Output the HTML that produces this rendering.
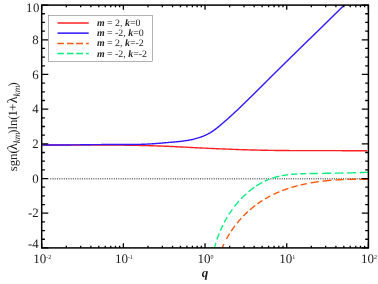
<!DOCTYPE html><html><head><meta charset="utf-8"><title>plot</title><style>html,body{margin:0;padding:0;background:#fff}svg{display:block;will-change:transform}text{font-family:"Liberation Serif",serif;fill:#1c1c1c;text-rendering:geometricPrecision}</style></head><body>
<svg width="378" height="284" viewBox="0 0 378 284">
<rect width="378" height="284" fill="#fff"/>
<defs><clipPath id="c"><rect x="41.70" y="5.10" width="326.70" height="242.80"/></clipPath></defs>
<line x1="50.20" y1="178.73" x2="368.40" y2="178.73" stroke="#000" stroke-opacity="0.6" stroke-width="1.4" stroke-dasharray="1 1.27"/>
<g clip-path="url(#c)" fill="none" stroke-width="1.40">
<path d="M41.70,144.89 L43.34,144.91 L44.97,144.92 L46.61,144.93 L48.24,144.94 L49.88,144.94 L51.51,144.95 L53.15,144.96 L54.79,144.96 L56.42,144.97 L58.06,144.97 L59.69,144.98 L61.33,144.98 L62.97,144.98 L64.60,144.98 L66.24,144.99 L67.87,144.99 L69.51,144.99 L71.15,144.99 L72.78,144.99 L74.42,144.99 L76.06,144.99 L77.69,144.99 L79.33,144.99 L80.96,144.99 L82.60,144.99 L84.24,144.99 L85.87,144.99 L87.51,144.99 L89.15,144.99 L90.78,144.99 L92.42,144.99 L94.05,145.00 L95.69,145.00 L97.33,145.00 L98.96,145.01 L100.60,145.01 L102.24,145.02 L103.87,145.02 L105.51,145.03 L107.14,145.04 L108.78,145.04 L110.42,145.05 L112.05,145.06 L113.69,145.08 L115.33,145.09 L116.96,145.10 L118.60,145.12 L120.23,145.13 L121.87,145.15 L123.51,145.17 L125.14,145.19 L126.78,145.21 L128.41,145.24 L130.05,145.26 L131.68,145.29 L133.32,145.31 L134.96,145.34 L136.59,145.38 L138.23,145.41 L139.86,145.44 L141.50,145.48 L143.13,145.52 L144.77,145.56 L146.41,145.60 L148.04,145.64 L149.68,145.69 L151.31,145.74 L152.95,145.79 L154.58,145.84 L156.22,145.89 L157.85,145.95 L159.49,146.00 L161.12,146.06 L162.76,146.12 L164.39,146.19 L166.03,146.25 L167.66,146.32 L169.29,146.39 L170.93,146.46 L172.56,146.53 L174.20,146.61 L175.83,146.69 L177.47,146.76 L179.10,146.84 L180.73,146.93 L182.37,147.01 L184.00,147.09 L185.64,147.17 L187.27,147.26 L188.90,147.34 L190.54,147.43 L192.17,147.51 L193.81,147.60 L195.44,147.68 L197.07,147.76 L198.71,147.85 L200.34,147.93 L201.98,148.01 L203.61,148.09 L205.24,148.17 L206.88,148.25 L208.51,148.33 L210.15,148.40 L211.78,148.48 L213.42,148.55 L215.05,148.63 L216.68,148.70 L218.32,148.77 L219.95,148.84 L221.59,148.91 L223.22,148.98 L224.86,149.04 L226.49,149.11 L228.13,149.17 L229.76,149.23 L231.40,149.30 L233.03,149.36 L234.67,149.42 L236.30,149.47 L237.94,149.53 L239.57,149.59 L241.21,149.64 L242.84,149.69 L244.48,149.74 L246.11,149.79 L247.75,149.84 L249.38,149.89 L251.02,149.93 L252.65,149.98 L254.29,150.02 L255.92,150.06 L257.56,150.10 L259.19,150.14 L260.83,150.18 L262.46,150.21 L264.10,150.25 L265.74,150.28 L267.37,150.31 L269.01,150.34 L270.64,150.37 L272.28,150.39 L273.91,150.42 L275.55,150.44 L277.19,150.46 L278.82,150.48 L280.46,150.50 L282.09,150.52 L283.73,150.53 L285.37,150.55 L287.00,150.56 L288.64,150.57 L290.27,150.58 L291.91,150.59 L293.55,150.60 L295.18,150.61 L296.82,150.62 L298.46,150.63 L300.09,150.63 L301.73,150.64 L303.36,150.64 L305.00,150.65 L306.64,150.65 L308.27,150.65 L309.91,150.65 L311.55,150.66 L313.18,150.66 L314.82,150.66 L316.46,150.66 L318.09,150.66 L319.73,150.66 L321.36,150.66 L323.00,150.66 L324.64,150.66 L326.27,150.66 L327.91,150.66 L329.55,150.66 L331.18,150.66 L332.82,150.67 L334.45,150.67 L336.09,150.67 L337.73,150.67 L339.36,150.67 L341.00,150.67 L342.63,150.68 L344.27,150.68 L345.91,150.68 L347.54,150.69 L349.18,150.69 L350.81,150.70 L352.45,150.71 L354.09,150.71 L355.72,150.72 L357.36,150.73 L358.99,150.74 L360.63,150.75 L362.27,150.77 L363.90,150.78 L365.54,150.80 L367.17,150.81" stroke="#ff2020"/>
<path d="M41.70,144.90 L42.59,144.91 L43.49,144.93 L44.38,144.94 L45.27,144.95 L46.17,144.96 L47.06,144.97 L47.95,144.98 L48.84,144.98 L49.74,144.99 L50.63,144.99 L51.52,145.00 L52.41,145.00 L53.31,145.01 L54.20,145.01 L55.09,145.01 L55.98,145.01 L56.87,145.01 L57.77,145.01 L58.66,145.00 L59.55,145.00 L60.44,145.00 L61.33,145.00 L62.23,144.99 L63.12,144.99 L64.01,144.98 L64.90,144.97 L65.79,144.97 L66.68,144.96 L67.57,144.95 L68.47,144.95 L69.36,144.94 L70.25,144.93 L71.14,144.92 L72.03,144.91 L72.92,144.90 L73.81,144.89 L74.71,144.88 L75.60,144.87 L76.49,144.86 L77.38,144.85 L78.27,144.84 L79.16,144.83 L80.05,144.82 L80.94,144.80 L81.83,144.79 L82.73,144.78 L83.62,144.77 L84.51,144.76 L85.40,144.75 L86.29,144.73 L87.18,144.72 L88.07,144.71 L88.96,144.70 L89.86,144.69 L90.75,144.68 L91.64,144.67 L92.53,144.66 L93.42,144.65 L94.31,144.64 L95.20,144.63 L96.10,144.62 L96.99,144.61 L97.88,144.60 L98.77,144.59 L99.66,144.58 L100.55,144.58 L101.45,144.57 L102.34,144.56 L103.23,144.56 L104.12,144.55 L105.01,144.54 L105.91,144.54 L106.80,144.54 L107.69,144.53 L108.58,144.53 L109.47,144.53 L110.37,144.53 L111.26,144.53 L112.15,144.52 L113.04,144.53 L113.94,144.53 L114.83,144.53 L115.72,144.53 L116.62,144.53 L117.51,144.53 L118.40,144.53 L119.29,144.53 L120.19,144.54 L121.08,144.54 L121.97,144.54 L122.86,144.54 L123.76,144.54 L124.65,144.54 L125.54,144.54 L126.44,144.53 L127.33,144.53 L128.22,144.53 L129.11,144.52 L130.01,144.52 L130.90,144.51 L131.79,144.50 L132.68,144.50 L133.58,144.48 L134.47,144.47 L135.36,144.46 L136.25,144.44 L137.14,144.43 L138.03,144.41 L138.93,144.39 L139.82,144.37 L140.71,144.34 L141.60,144.32 L142.49,144.29 L143.38,144.26 L144.27,144.23 L145.16,144.19 L146.05,144.15 L146.94,144.11 L147.83,144.07 L148.72,144.02 L149.61,143.98 L150.50,143.92 L151.39,143.87 L152.28,143.81 L153.17,143.75 L154.06,143.69 L154.95,143.63 L155.84,143.56 L156.72,143.49 L157.61,143.42 L158.50,143.35 L159.39,143.28 L160.28,143.20 L161.17,143.13 L162.05,143.05 L162.94,142.98 L163.83,142.90 L164.72,142.82 L165.61,142.74 L166.50,142.66 L167.38,142.58 L168.27,142.50 L169.16,142.42 L170.05,142.34 L170.94,142.26 L171.83,142.18 L172.72,142.11 L173.61,142.03 L174.50,141.95 L175.39,141.87 L176.28,141.79 L177.16,141.70 L178.05,141.62 L178.94,141.53 L179.83,141.43 L180.72,141.34 L181.60,141.23 L182.49,141.13 L183.38,141.02 L184.26,140.90 L185.14,140.78 L186.03,140.65 L186.91,140.51 L187.79,140.37 L188.67,140.22 L189.55,140.05 L190.42,139.89 L191.30,139.71 L192.17,139.52 L193.05,139.32 L193.92,139.11 L194.78,138.90 L195.65,138.67 L196.51,138.43 L197.37,138.18 L198.22,137.92 L199.07,137.65 L199.92,137.37 L200.76,137.08 L201.60,136.77 L202.43,136.45 L203.26,136.13 L204.08,135.78 L204.89,135.43 L205.70,135.06 L206.50,134.68 L207.30,134.29 L208.09,133.88 L208.87,133.46 L209.65,133.03 L210.42,132.58 L211.17,132.12 L211.93,131.64 L212.67,131.15 L213.41,130.65 L214.13,130.13 L214.86,129.61 L215.57,129.07 L216.28,128.53 L216.99,127.98 L217.69,127.42 L218.39,126.85 L219.08,126.28 L219.77,125.71 L220.46,125.13 L221.14,124.55 L221.82,123.96 L222.50,123.38 L223.18,122.80 L223.85,122.21 L224.53,121.62 L225.20,121.04 L225.87,120.45 L226.54,119.86 L227.21,119.27 L227.88,118.68 L228.55,118.08 L229.21,117.49 L229.87,116.89 L230.53,116.30 L231.19,115.70 L231.85,115.10 L232.51,114.50 L233.17,113.89 L233.82,113.29 L234.48,112.68 L235.13,112.08 L235.78,111.47 L236.43,110.86 L237.08,110.25 L237.73,109.64 L238.38,109.02 L239.02,108.41 L239.67,107.80 L240.31,107.18 L240.96,106.56 L241.60,105.95 L242.24,105.33 L242.88,104.71 L243.52,104.09 L244.16,103.47 L244.80,102.84 L245.44,102.22 L246.08,101.60 L246.71,100.97 L247.35,100.35 L247.99,99.73 L248.62,99.10 L249.26,98.47 L249.89,97.85 L250.53,97.22 L251.16,96.59 L251.80,95.97 L252.43,95.34 L253.06,94.71 L253.70,94.08 L254.33,93.45 L254.96,92.82 L255.59,92.19 L256.23,91.57 L256.86,90.94 L257.49,90.31 L258.12,89.68 L258.76,89.05 L259.39,88.42 L260.02,87.79 L260.65,87.16 L261.29,86.53 L261.92,85.90 L262.55,85.27 L263.18,84.65 L263.82,84.02 L264.45,83.39 L265.08,82.76 L265.72,82.13 L266.35,81.51 L266.98,80.88 L267.62,80.25 L268.25,79.62 L268.89,78.99 L269.52,78.37 L270.15,77.74 L270.79,77.11 L271.42,76.49 L272.06,75.86 L272.69,75.23 L273.33,74.61 L273.96,73.98 L274.60,73.35 L275.23,72.73 L275.87,72.10 L276.50,71.47 L277.14,70.85 L277.77,70.22 L278.41,69.59 L279.04,68.97 L279.68,68.34 L280.31,67.72 L280.95,67.09 L281.58,66.47 L282.22,65.84 L282.86,65.22 L283.49,64.59 L284.13,63.96 L284.76,63.34 L285.40,62.71 L286.04,62.09 L286.67,61.46 L287.31,60.84 L287.94,60.21 L288.58,59.59 L289.22,58.96 L289.85,58.34 L290.49,57.72 L291.13,57.09 L291.76,56.47 L292.40,55.84 L293.04,55.22 L293.67,54.59 L294.31,53.97 L294.95,53.35 L295.59,52.72 L296.22,52.10 L296.86,51.47 L297.50,50.85 L298.13,50.23 L298.77,49.60 L299.41,48.98 L300.05,48.35 L300.68,47.73 L301.32,47.11 L301.96,46.48 L302.60,45.86 L303.23,45.23 L303.87,44.61 L304.51,43.99 L305.15,43.36 L305.78,42.74 L306.42,42.12 L307.06,41.49 L307.70,40.87 L308.33,40.25 L308.97,39.62 L309.61,39.00 L310.25,38.38 L310.89,37.75 L311.52,37.13 L312.16,36.51 L312.80,35.88 L313.44,35.26 L314.08,34.64 L314.71,34.01 L315.35,33.39 L315.99,32.77 L316.63,32.14 L317.26,31.52 L317.90,30.90 L318.54,30.27 L319.18,29.65 L319.82,29.03 L320.45,28.40 L321.09,27.78 L321.73,27.16 L322.37,26.53 L323.01,25.91 L323.64,25.29 L324.28,24.66 L324.92,24.04 L325.56,23.42 L326.20,22.79 L326.83,22.17 L327.47,21.55 L328.11,20.92 L328.75,20.30 L329.38,19.68 L330.02,19.05 L330.66,18.43 L331.30,17.81 L331.93,17.18 L332.57,16.56 L333.21,15.94 L333.85,15.31 L334.49,14.69 L335.12,14.06 L335.76,13.44 L336.40,12.82 L337.04,12.19 L337.67,11.57 L338.31,10.94 L338.95,10.32 L339.58,9.70 L340.22,9.07 L340.86,8.45 L341.50,7.82 L342.13,7.20 L342.77,6.58 L343.41,5.95 L344.04,5.33 L344.68,4.70" stroke="#3018ff"/>
<path d="M221.45,249.76 L221.52,249.57 L221.60,249.39 L221.67,249.20 L221.75,249.02 L221.82,248.83 L221.90,248.65 L221.97,248.46 L222.05,248.28 L222.13,248.09 L222.20,247.91 L222.28,247.73 L222.36,247.54 L222.44,247.36 L222.51,247.18 L222.59,246.99 L222.67,246.81 L222.75,246.63 L222.83,246.45 L222.91,246.26 L222.99,246.08 L223.07,245.90 L223.15,245.72 L223.23,245.54 L223.31,245.36 L223.40,245.18 L223.48,245.00 L223.56,244.81 L223.64,244.63 L223.73,244.45 L223.81,244.27 L223.90,244.09 M226.48,238.97 L226.57,238.79 L226.66,238.62 L226.76,238.45 L226.85,238.27 L226.95,238.10 L227.05,237.93 L227.14,237.76 L227.24,237.58 L227.33,237.41 L227.43,237.24 L227.53,237.07 L227.63,236.90 L227.72,236.73 L227.82,236.56 L227.92,236.38 L228.02,236.21 L228.12,236.04 L228.22,235.87 L228.32,235.70 L228.42,235.53 L228.52,235.36 L228.62,235.20 L228.72,235.03 L228.82,234.86 L228.92,234.69 L229.02,234.52 L229.13,234.35 L229.23,234.18 L229.33,234.02 L229.43,233.85 L229.54,233.68 M231.13,231.20 L231.23,231.04 L231.34,230.87 L231.45,230.71 L231.56,230.55 L231.67,230.38 L231.78,230.22 L231.89,230.06 L232.00,229.90 L232.11,229.73 L232.22,229.57 L232.33,229.41 L232.44,229.25 L232.56,229.09 L232.67,228.93 L232.78,228.77 L232.89,228.61 L233.01,228.45 L233.12,228.29 L233.23,228.13 L233.35,227.97 L233.46,227.81 L233.58,227.65 L233.69,227.49 L233.81,227.33 L233.92,227.17 L234.04,227.02 L234.15,226.86 L234.27,226.70 L234.38,226.54 L234.50,226.39 L234.62,226.23 L234.74,226.07 L234.85,225.92 L234.97,225.76 M237.02,223.14 L237.14,222.99 L237.26,222.84 L237.39,222.69 L237.51,222.54 L237.64,222.39 L237.76,222.24 L237.88,222.09 L238.01,221.94 L238.13,221.79 L238.26,221.64 L238.39,221.49 L238.51,221.34 L238.64,221.19 L238.76,221.04 L238.89,220.89 L239.02,220.74 L239.14,220.60 L239.27,220.45 L239.40,220.30 L239.53,220.15 L239.66,220.01 L239.78,219.86 L239.91,219.71 L240.04,219.57 L240.17,219.42 L240.30,219.28 L240.43,219.13 L240.56,218.99 L240.69,218.84 L240.82,218.70 L240.95,218.55 L241.08,218.41 L241.22,218.27 M243.35,216.00 L243.49,215.86 L243.62,215.72 L243.76,215.58 L243.90,215.44 L244.03,215.31 L244.17,215.17 L244.31,215.03 L244.44,214.89 L244.58,214.75 L244.72,214.62 L244.86,214.48 L245.00,214.34 L245.14,214.21 L245.27,214.07 L245.41,213.94 L245.55,213.80 L245.69,213.67 L245.83,213.53 L245.97,213.40 L246.11,213.26 L246.25,213.13 L246.39,212.99 L246.53,212.86 L246.68,212.73 L246.82,212.59 L246.96,212.46 L247.10,212.33 L247.24,212.20 L247.39,212.06 L247.53,211.93 L247.67,211.80 L247.81,211.67 L247.96,211.54 M249.99,209.74 L250.14,209.61 L250.28,209.48 L250.43,209.36 L250.58,209.23 L250.73,209.11 L250.87,208.98 L251.02,208.86 L251.17,208.73 L251.32,208.61 L251.47,208.48 L251.62,208.36 L251.76,208.23 L251.91,208.11 L252.06,207.99 L252.21,207.87 L252.36,207.74 L252.51,207.62 L252.66,207.50 L252.82,207.38 L252.97,207.26 L253.12,207.14 L253.27,207.01 L253.42,206.89 L253.57,206.77 L253.72,206.65 L253.88,206.53 L254.03,206.41 L254.18,206.30 L254.33,206.18 L254.49,206.06 L254.64,205.94 L254.79,205.82 L254.95,205.70 L255.10,205.59 L255.26,205.47 M257.43,203.86 L257.59,203.75 L257.75,203.64 L257.91,203.53 L258.06,203.41 L258.22,203.30 L258.38,203.19 L258.54,203.08 L258.70,202.97 L258.86,202.86 L259.01,202.75 L259.17,202.64 L259.33,202.53 L259.49,202.42 L259.65,202.31 L259.81,202.21 L259.97,202.10 L260.13,201.99 L260.29,201.88 L260.45,201.77 L260.61,201.67 L260.78,201.56 L260.94,201.46 L261.10,201.35 L261.26,201.24 L261.42,201.14 L261.58,201.03 L261.74,200.93 L261.91,200.82 L262.07,200.72 L262.23,200.62 L262.40,200.51 M265.03,198.90 L265.19,198.80 L265.36,198.70 L265.52,198.60 L265.69,198.51 L265.86,198.41 L266.02,198.31 L266.19,198.22 L266.36,198.12 L266.52,198.02 L266.69,197.93 L266.86,197.83 L267.03,197.74 L267.20,197.64 L267.36,197.55 L267.53,197.46 L267.70,197.36 L267.87,197.27 L268.04,197.18 L268.21,197.08 L268.38,196.99 L268.55,196.90 L268.71,196.81 L268.88,196.72 L269.05,196.63 L269.22,196.53 L269.39,196.44 L269.56,196.35 L269.73,196.26 L269.91,196.17 L270.08,196.08 L270.25,196.00 M273.52,194.36 L273.70,194.28 L273.87,194.19 L274.05,194.11 L274.22,194.03 L274.40,193.95 L274.57,193.87 L274.74,193.78 L274.92,193.70 L275.09,193.62 L275.27,193.54 L275.45,193.46 L275.62,193.38 L275.80,193.30 L275.97,193.22 L276.15,193.14 L276.33,193.07 L276.50,192.99 L276.68,192.91 L276.85,192.83 L277.03,192.75 L277.21,192.68 L277.38,192.60 L277.56,192.52 L277.74,192.44 L277.92,192.37 L278.09,192.29 L278.27,192.22 L278.45,192.14 L278.63,192.07 L278.81,191.99 L278.98,191.92 L279.16,191.84 L279.34,191.77 M282.22,190.62 L282.40,190.55 L282.58,190.48 L282.76,190.41 L282.94,190.34 L283.12,190.28 L283.30,190.21 L283.48,190.14 L283.66,190.07 L283.85,190.01 L284.03,189.94 L284.21,189.87 L284.39,189.81 L284.57,189.74 L284.76,189.67 L284.94,189.61 L285.12,189.54 L285.30,189.48 L285.49,189.41 L285.67,189.35 L285.85,189.28 L286.04,189.22 L286.22,189.15 L286.40,189.09 L286.59,189.03 L286.77,188.96 L286.95,188.90 L287.14,188.84 L287.32,188.78 L287.50,188.71 L287.69,188.65 L287.87,188.59 L288.06,188.53 L288.24,188.47 L288.43,188.41 M291.39,187.47 L291.58,187.41 L291.77,187.35 L291.95,187.30 L292.14,187.24 L292.33,187.19 L292.51,187.13 L292.70,187.08 L292.89,187.02 L293.07,186.97 L293.26,186.91 L293.45,186.86 L293.64,186.80 L293.82,186.75 L294.01,186.70 L294.20,186.64 L294.39,186.59 L294.57,186.54 L294.76,186.49 L294.95,186.43 L295.14,186.38 L295.33,186.33 L295.52,186.28 L295.70,186.23 L295.89,186.18 L296.08,186.12 L296.27,186.07 L296.46,186.02 L296.65,185.97 L296.84,185.92 L297.03,185.87 L297.21,185.82 L297.40,185.77 L297.59,185.73 M300.63,184.97 L300.82,184.93 L301.01,184.88 L301.20,184.84 L301.40,184.79 L301.59,184.75 L301.78,184.70 L301.97,184.66 L302.16,184.62 L302.35,184.57 L302.54,184.53 L302.73,184.49 L302.93,184.44 L303.12,184.40 L303.31,184.36 L303.50,184.32 L303.69,184.27 L303.88,184.23 L304.08,184.19 L304.27,184.15 L304.46,184.11 L304.65,184.07 L304.84,184.03 L305.04,183.99 L305.23,183.95 L305.42,183.91 L305.61,183.87 L305.80,183.83 L306.00,183.79 L306.19,183.75 L306.38,183.71 L306.58,183.67 L306.77,183.63 M310.63,182.90 L310.83,182.87 L311.02,182.84 L311.22,182.80 L311.41,182.77 L311.60,182.73 L311.80,182.70 L311.99,182.67 L312.19,182.64 L312.38,182.60 L312.58,182.57 L312.77,182.54 L312.96,182.51 L313.16,182.47 L313.35,182.44 L313.55,182.41 L313.74,182.38 L313.94,182.35 L314.13,182.32 L314.33,182.29 L314.52,182.25 L314.72,182.22 L314.91,182.19 L315.11,182.16 L315.30,182.13 L315.50,182.10 L315.69,182.07 L315.89,182.05 L316.08,182.02 L316.28,181.99 L316.47,181.96 L316.67,181.93 L316.86,181.90 L317.06,181.87 L317.25,181.85 L317.45,181.82 L317.64,181.79 L317.84,181.76 L318.03,181.73 L318.23,181.71 L318.42,181.68 L318.62,181.65 L318.82,181.63 M322.53,181.15 L322.73,181.13 L322.93,181.11 L323.12,181.09 L323.32,181.06 L323.52,181.04 L323.71,181.02 L323.91,181.00 L324.10,180.97 L324.30,180.95 L324.50,180.93 L324.69,180.91 L324.89,180.89 L325.08,180.87 L325.28,180.85 L325.48,180.82 L325.67,180.80 L325.87,180.78 L326.07,180.76 L326.26,180.74 L326.46,180.72 L326.65,180.70 L326.85,180.68 L327.05,180.66 L327.24,180.64 L327.44,180.62 L327.64,180.61 L327.83,180.59 L328.03,180.57 L328.22,180.55 L328.42,180.53 L328.62,180.51 L328.81,180.49 L329.01,180.48 L329.21,180.46 L329.40,180.44 L329.60,180.42 L329.80,180.41 L329.99,180.39 L330.19,180.37 L330.38,180.35 L330.58,180.34 L330.78,180.32 L330.97,180.30 L331.17,180.29 L331.37,180.27 M335.29,179.98 L335.49,179.97 L335.69,179.95 L335.88,179.94 L336.08,179.93 L336.27,179.91 L336.47,179.90 L336.67,179.89 L336.86,179.88 L337.06,179.86 L337.25,179.85 L337.45,179.84 L337.65,179.83 L337.84,179.82 L338.04,179.81 L338.23,179.80 L338.43,179.78 L338.63,179.77 L338.82,179.76 L339.02,179.75 L339.21,179.74 L339.41,179.73 L339.61,179.72 L339.80,179.71 L340.00,179.70 L340.19,179.69 L340.39,179.68 L340.58,179.67 L340.78,179.66 L340.98,179.65 L341.17,179.64 L341.37,179.63 L341.56,179.62 L341.76,179.61 L341.95,179.60 L342.15,179.60 L342.34,179.59 L342.54,179.58 L342.73,179.57 L342.93,179.56 L343.13,179.55 L343.32,179.55 L343.52,179.54 L343.71,179.53 M347.22,179.41 L347.41,179.40 L347.61,179.40 L347.80,179.39 L348.00,179.39 L348.19,179.38 L348.38,179.38 L348.58,179.37 L348.77,179.37 L348.97,179.36 L349.16,179.36 L349.35,179.35 L349.55,179.35 L349.74,179.34 L349.94,179.34 L350.13,179.34 L350.32,179.33 L350.52,179.33 L350.71,179.32 L350.90,179.32 L351.10,179.32 L351.29,179.31 L351.49,179.31 L351.68,179.31 L351.87,179.30 L352.07,179.30 L352.26,179.30 L352.45,179.29 L352.64,179.29 L352.84,179.29 L353.03,179.29 L353.22,179.28 L353.42,179.28 L353.61,179.28 L353.80,179.28 L353.99,179.27 L354.19,179.27 L354.38,179.27 L354.57,179.27 L354.77,179.27 L354.96,179.26 L355.15,179.26 L355.34,179.26 L355.53,179.26 L355.73,179.26 L355.92,179.26 L356.11,179.26 M359.75,179.25 L359.94,179.25 L360.13,179.25 L360.32,179.25 L360.51,179.25 L360.70,179.25 L360.89,179.25 L361.08,179.25 L361.27,179.26 L361.46,179.26 L361.65,179.26 L361.84,179.26 L362.03,179.26 L362.22,179.26 L362.41,179.26 L362.60,179.27 L362.79,179.27 L362.97,179.27 L363.16,179.27 L363.35,179.27 L363.54,179.27 L363.73,179.28 L363.92,179.28 L364.11,179.28 L364.30,179.28 L364.49,179.28 L364.67,179.29 L364.86,179.29 L365.05,179.29 L365.24,179.29 L365.43,179.30 L365.62,179.30 L365.80,179.30 L365.99,179.30 L366.18,179.31 L366.37,179.31 L366.55,179.31 L366.74,179.32 L366.93,179.32 L367.12,179.32 L367.30,179.33 L367.49,179.33 L367.68,179.33 L367.86,179.34 L368.05,179.34 L368.24,179.34 L368.43,179.35 L368.61,179.35 L368.80,179.35" stroke="#ff5808"/>
<path d="M214.04,249.35 L214.09,249.15 L214.14,248.95 L214.19,248.74 L214.24,248.54 L214.29,248.34 L214.34,248.14 L214.39,247.94 L214.45,247.74 L214.50,247.53 L214.55,247.33 L214.61,247.13 L214.66,246.93 L214.72,246.73 L214.77,246.52 L214.83,246.32 L214.88,246.12 L214.94,245.92 L215.00,245.72 L215.05,245.52 L215.11,245.31 L215.17,245.11 L215.23,244.91 L215.28,244.71 L215.34,244.51 L215.40,244.31 L215.46,244.10 L215.52,243.90 L215.58,243.70 L215.64,243.50 L215.71,243.30 L215.77,243.10 L215.83,242.89 L215.89,242.69 M216.94,239.47 L217.01,239.27 L217.08,239.07 L217.15,238.87 L217.22,238.67 L217.29,238.47 L217.36,238.27 L217.43,238.07 L217.50,237.87 L217.58,237.67 L217.65,237.47 L217.72,237.27 L217.79,237.07 L217.87,236.87 L217.94,236.67 L218.01,236.47 L218.09,236.27 L218.16,236.07 L218.24,235.87 L218.32,235.67 L218.39,235.47 L218.47,235.27 L218.54,235.07 L218.62,234.87 L218.70,234.67 L218.78,234.47 L218.86,234.27 L218.93,234.07 L219.01,233.87 L219.09,233.68 L219.17,233.48 M220.33,230.70 L220.42,230.51 L220.50,230.31 L220.59,230.11 L220.68,229.92 L220.76,229.72 L220.85,229.52 L220.94,229.33 L221.03,229.13 L221.11,228.93 L221.20,228.74 L221.29,228.54 L221.38,228.34 L221.47,228.15 L221.56,227.95 L221.65,227.76 L221.74,227.56 L221.83,227.37 L221.93,227.17 L222.02,226.98 L222.11,226.78 L222.20,226.59 L222.30,226.39 L222.39,226.20 L222.49,226.00 L222.58,225.81 L222.67,225.61 L222.77,225.42 L222.87,225.23 L222.96,225.03 M224.34,222.34 L224.44,222.15 L224.54,221.96 L224.65,221.77 L224.75,221.58 L224.85,221.39 L224.95,221.19 L225.06,221.00 L225.16,220.81 L225.27,220.62 L225.37,220.44 L225.48,220.25 L225.58,220.06 L225.69,219.87 L225.79,219.68 L225.90,219.49 L226.01,219.30 L226.11,219.11 L226.22,218.92 L226.33,218.74 L226.44,218.55 L226.55,218.36 L226.65,218.17 L226.76,217.99 L226.87,217.80 L226.98,217.61 L227.09,217.43 L227.21,217.24 M229.03,214.29 L229.14,214.11 L229.26,213.92 L229.38,213.74 L229.50,213.56 L229.61,213.38 L229.73,213.20 L229.85,213.02 L229.97,212.83 L230.09,212.65 L230.21,212.47 L230.33,212.29 L230.45,212.11 L230.57,211.93 L230.69,211.75 L230.82,211.57 L230.94,211.40 L231.06,211.22 L231.18,211.04 L231.31,210.86 L231.43,210.68 L231.55,210.50 L231.68,210.33 L231.80,210.15 L231.93,209.97 L232.05,209.80 L232.18,209.62 L232.30,209.44 M234.50,206.49 L234.63,206.32 L234.77,206.15 L234.90,205.98 L235.03,205.81 L235.17,205.64 L235.30,205.47 L235.43,205.30 L235.57,205.13 L235.70,204.96 L235.84,204.79 L235.98,204.62 L236.11,204.46 L236.25,204.29 L236.38,204.12 L236.52,203.95 L236.66,203.79 L236.80,203.62 L236.94,203.45 L237.07,203.29 L237.21,203.12 L237.35,202.96 L237.49,202.79 L237.63,202.63 L237.77,202.46 L237.91,202.30 L238.05,202.14 L238.19,201.97 L238.34,201.81 L238.48,201.65 L238.62,201.49 L238.76,201.33 L238.91,201.16 L239.05,201.00 M241.09,198.78 L241.24,198.63 L241.39,198.47 L241.54,198.31 L241.69,198.16 L241.84,198.00 L241.99,197.85 L242.14,197.70 L242.29,197.54 L242.44,197.39 L242.59,197.24 L242.74,197.08 L242.89,196.93 L243.05,196.78 L243.20,196.63 L243.35,196.48 L243.51,196.33 L243.66,196.18 L243.81,196.03 L243.97,195.88 L244.12,195.73 L244.28,195.58 L244.43,195.43 L244.59,195.29 L244.75,195.14 L244.90,194.99 L245.06,194.84 L245.22,194.70 L245.37,194.55 L245.53,194.41 L245.69,194.26 L245.85,194.12 L246.01,193.97 L246.17,193.83 L246.33,193.68 M248.43,191.85 L248.59,191.72 L248.76,191.58 L248.92,191.44 L249.09,191.31 L249.25,191.17 L249.42,191.03 L249.58,190.90 L249.75,190.76 L249.92,190.63 L250.08,190.50 L250.25,190.36 L250.42,190.23 L250.59,190.10 L250.76,189.96 L250.92,189.83 L251.09,189.70 L251.26,189.57 L251.43,189.44 L251.60,189.31 L251.77,189.18 L251.94,189.05 L252.11,188.92 L252.28,188.79 L252.46,188.66 L252.63,188.54 L252.80,188.41 L252.97,188.28 L253.15,188.16 L253.32,188.03 L253.49,187.91 L253.67,187.78 L253.84,187.66 L254.02,187.53 L254.19,187.41 L254.37,187.29 M256.31,185.97 L256.49,185.85 L256.67,185.74 L256.85,185.62 L257.03,185.50 L257.21,185.39 L257.39,185.27 L257.57,185.16 L257.75,185.05 L257.93,184.93 L258.12,184.82 L258.30,184.71 L258.48,184.60 L258.66,184.49 L258.85,184.38 L259.03,184.27 L259.21,184.16 L259.40,184.05 L259.58,183.94 L259.76,183.83 L259.95,183.73 L260.13,183.62 L260.32,183.51 L260.51,183.41 L260.69,183.30 L260.88,183.20 L261.06,183.10 L261.25,182.99 L261.44,182.89 L261.62,182.79 L261.81,182.69 L262.00,182.59 L262.19,182.49 M264.85,181.14 L265.04,181.05 L265.24,180.96 L265.43,180.87 L265.62,180.78 L265.82,180.69 L266.01,180.60 L266.20,180.52 L266.40,180.43 L266.59,180.34 L266.79,180.26 L266.98,180.17 L267.18,180.09 L267.37,180.00 L267.57,179.92 L267.76,179.84 L267.96,179.76 L268.16,179.67 L268.35,179.59 L268.55,179.51 L268.75,179.44 L268.94,179.36 L269.14,179.28 L269.34,179.20 L269.54,179.13 M272.34,178.13 L272.54,178.06 L272.74,177.99 L272.94,177.93 L273.15,177.86 L273.35,177.80 L273.55,177.74 L273.76,177.67 L273.96,177.61 L274.16,177.55 L274.37,177.49 L274.57,177.43 L274.77,177.37 L274.98,177.31 L275.18,177.25 L275.39,177.19 L275.59,177.14 L275.80,177.08 L276.00,177.02 L276.21,176.97 L276.41,176.91 L276.62,176.86 L276.83,176.81 L277.03,176.75 L277.24,176.70 L277.44,176.65 L277.65,176.60 L277.86,176.55 L278.06,176.50 L278.27,176.45 L278.48,176.40 L278.69,176.35 L278.89,176.30 L279.10,176.26 L279.31,176.21 M281.82,175.69 L282.03,175.65 L282.24,175.61 L282.45,175.57 L282.66,175.54 L282.87,175.50 L283.08,175.46 L283.29,175.42 L283.50,175.39 L283.71,175.35 L283.93,175.32 L284.14,175.28 L284.35,175.25 L284.56,175.21 L284.77,175.18 L284.98,175.15 L285.20,175.12 L285.41,175.08 L285.62,175.05 L285.83,175.02 L286.04,174.99 L286.26,174.96 L286.47,174.93 L286.68,174.90 L286.89,174.87 L287.11,174.85 L287.32,174.82 L287.53,174.79 L287.75,174.76 L287.96,174.74 M291.17,174.39 L291.38,174.37 L291.59,174.35 L291.81,174.33 L292.02,174.32 L292.24,174.30 L292.45,174.28 L292.67,174.26 L292.88,174.24 L293.10,174.23 L293.31,174.21 L293.53,174.19 L293.74,174.18 L293.96,174.16 L294.17,174.15 L294.39,174.13 L294.60,174.12 L294.82,174.10 L295.03,174.09 L295.25,174.07 L295.47,174.06 L295.68,174.05 L295.90,174.03 L296.11,174.02 L296.33,174.01 L296.54,174.00 L296.76,173.98 L296.97,173.97 L297.19,173.96 M300.21,173.82 L300.43,173.81 L300.65,173.81 L300.86,173.80 L301.08,173.79 L301.30,173.78 L301.51,173.78 L301.73,173.77 L301.94,173.76 L302.16,173.75 L302.38,173.75 L302.59,173.74 L302.81,173.73 L303.03,173.73 L303.24,173.72 L303.46,173.71 L303.67,173.71 L303.89,173.70 L304.11,173.70 L304.32,173.69 L304.54,173.68 L304.76,173.68 L304.97,173.67 L305.19,173.67 L305.40,173.66 L305.62,173.66 L305.84,173.65 L306.05,173.65 L306.27,173.64 M309.51,173.57 L309.73,173.56 L309.94,173.56 L310.16,173.56 L310.37,173.55 L310.59,173.55 L310.80,173.54 L311.02,173.54 L311.24,173.53 L311.45,173.53 L311.67,173.53 L311.88,173.52 L312.10,173.52 L312.31,173.51 L312.53,173.51 L312.75,173.51 L312.96,173.50 L313.18,173.50 L313.39,173.49 L313.61,173.49 L313.82,173.49 L314.04,173.48 L314.26,173.48 L314.47,173.48 L314.69,173.47 L314.90,173.47 L315.12,173.46 L315.33,173.46 L315.55,173.46 L315.76,173.45 L315.98,173.45 L316.19,173.45 L316.41,173.44 L316.63,173.44 L316.84,173.44 L317.06,173.43 L317.27,173.43 L317.49,173.43 L317.70,173.42 L317.92,173.42 M322.01,173.36 L322.22,173.36 L322.44,173.35 L322.65,173.35 L322.87,173.35 L323.08,173.34 L323.30,173.34 L323.51,173.34 L323.73,173.34 L323.94,173.33 L324.16,173.33 L324.37,173.33 L324.59,173.32 L324.80,173.32 L325.02,173.32 L325.23,173.32 L325.44,173.31 L325.66,173.31 L325.87,173.31 L326.09,173.30 L326.30,173.30 L326.52,173.30 L326.73,173.30 L326.95,173.29 L327.16,173.29 L327.38,173.29 L327.59,173.28 L327.81,173.28 L328.02,173.28 L328.24,173.28 L328.45,173.27 L328.67,173.27 L328.88,173.27 L329.10,173.26 L329.31,173.26 L329.53,173.26 L329.74,173.26 L329.95,173.25 L330.17,173.25 L330.38,173.25 L330.60,173.24 L330.81,173.24 L331.03,173.24 L331.24,173.24 M334.89,173.19 L335.10,173.18 L335.32,173.18 L335.53,173.18 L335.75,173.17 L335.96,173.17 L336.18,173.17 L336.39,173.16 L336.61,173.16 L336.82,173.16 L337.03,173.15 L337.25,173.15 L337.46,173.15 L337.68,173.14 L337.89,173.14 L338.11,173.14 L338.32,173.13 L338.54,173.13 L338.75,173.13 L338.96,173.12 L339.18,173.12 L339.39,173.12 L339.61,173.11 L339.82,173.11 L340.04,173.11 L340.25,173.10 L340.47,173.10 L340.68,173.10 L340.89,173.09 L341.11,173.09 L341.32,173.09 L341.54,173.08 L341.75,173.08 L341.97,173.07 L342.18,173.07 L342.39,173.07 L342.61,173.06 L342.82,173.06 L343.04,173.05 L343.25,173.05 M347.32,172.97 L347.54,172.96 L347.75,172.96 L347.97,172.95 L348.18,172.95 L348.40,172.94 L348.61,172.94 L348.82,172.93 L349.04,172.93 L349.25,172.92 L349.47,172.92 L349.68,172.91 L349.90,172.91 L350.11,172.90 L350.32,172.90 L350.54,172.89 L350.75,172.89 L350.97,172.88 L351.18,172.88 L351.40,172.87 L351.61,172.87 L351.82,172.86 L352.04,172.86 L352.25,172.85 L352.47,172.84 L352.68,172.84 L352.90,172.83 L353.11,172.83 L353.32,172.82 L353.54,172.81 L353.75,172.81 L353.97,172.80 L354.18,172.80 L354.40,172.79 L354.61,172.78 L354.83,172.78 L355.04,172.77 L355.25,172.76 L355.47,172.76 L355.68,172.75 L355.90,172.74 L356.11,172.74 M359.76,172.61 L359.97,172.61 L360.18,172.60 L360.40,172.59 L360.61,172.58 L360.83,172.57 L361.04,172.57 L361.26,172.56 L361.47,172.55 L361.69,172.54 L361.90,172.53 L362.12,172.52 L362.33,172.52 L362.54,172.51 L362.76,172.50 L362.97,172.49 L363.19,172.48 L363.40,172.47 L363.62,172.46 L363.83,172.45 L364.05,172.44 L364.26,172.43 L364.48,172.42 L364.69,172.42 L364.90,172.41 L365.12,172.40 L365.33,172.39 L365.55,172.38 L365.76,172.37 L365.98,172.36 L366.19,172.35 L366.41,172.34 L366.62,172.33 L366.84,172.32 L367.05,172.31 L367.27,172.30 L367.48,172.29 L367.69,172.27 L367.91,172.26 L368.12,172.25 L368.34,172.24 L368.55,172.23 L368.77,172.22 L368.98,172.21" stroke="#08f07c"/>
</g>
<path d="M41.70,247.90 v-4.6 M41.70,5.10 v4.6 M66.29,247.90 v-2.2 M66.29,5.10 v2.2 M80.67,247.90 v-2.2 M80.67,5.10 v2.2 M90.87,247.90 v-2.2 M90.87,5.10 v2.2 M98.79,247.90 v-2.2 M98.79,5.10 v2.2 M105.26,247.90 v-2.2 M105.26,5.10 v2.2 M110.72,247.90 v-2.2 M110.72,5.10 v2.2 M115.46,247.90 v-2.2 M115.46,5.10 v2.2 M119.64,247.90 v-2.2 M119.64,5.10 v2.2 M123.38,247.90 v-4.6 M123.38,5.10 v4.6 M147.96,247.90 v-2.2 M147.96,5.10 v2.2 M162.34,247.90 v-2.2 M162.34,5.10 v2.2 M172.55,247.90 v-2.2 M172.55,5.10 v2.2 M180.46,247.90 v-2.2 M180.46,5.10 v2.2 M186.93,247.90 v-2.2 M186.93,5.10 v2.2 M192.40,247.90 v-2.2 M192.40,5.10 v2.2 M197.13,247.90 v-2.2 M197.13,5.10 v2.2 M201.31,247.90 v-2.2 M201.31,5.10 v2.2 M205.05,247.90 v-4.6 M205.05,5.10 v4.6 M229.64,247.90 v-2.2 M229.64,5.10 v2.2 M244.02,247.90 v-2.2 M244.02,5.10 v2.2 M254.22,247.90 v-2.2 M254.22,5.10 v2.2 M262.14,247.90 v-2.2 M262.14,5.10 v2.2 M268.61,247.90 v-2.2 M268.61,5.10 v2.2 M274.07,247.90 v-2.2 M274.07,5.10 v2.2 M278.81,247.90 v-2.2 M278.81,5.10 v2.2 M282.99,247.90 v-2.2 M282.99,5.10 v2.2 M286.72,247.90 v-4.6 M286.72,5.10 v4.6 M311.31,247.90 v-2.2 M311.31,5.10 v2.2 M325.69,247.90 v-2.2 M325.69,5.10 v2.2 M335.90,247.90 v-2.2 M335.90,5.10 v2.2 M343.81,247.90 v-2.2 M343.81,5.10 v2.2 M350.28,247.90 v-2.2 M350.28,5.10 v2.2 M355.75,247.90 v-2.2 M355.75,5.10 v2.2 M360.48,247.90 v-2.2 M360.48,5.10 v2.2 M364.66,247.90 v-2.2 M364.66,5.10 v2.2 M368.40,247.90 v-4.6 M368.40,5.10 v4.6 M41.70,247.90 h6.6 M368.40,247.90 h-6.6 M41.70,239.23 h3.2 M368.40,239.23 h-3.2 M41.70,230.56 h3.2 M368.40,230.56 h-3.2 M41.70,221.89 h3.2 M368.40,221.89 h-3.2 M41.70,213.21 h6.6 M368.40,213.21 h-6.6 M41.70,204.54 h3.2 M368.40,204.54 h-3.2 M41.70,195.87 h3.2 M368.40,195.87 h-3.2 M41.70,187.20 h3.2 M368.40,187.20 h-3.2 M41.70,178.53 h6.6 M368.40,178.53 h-6.6 M41.70,169.86 h3.2 M368.40,169.86 h-3.2 M41.70,161.19 h3.2 M368.40,161.19 h-3.2 M41.70,152.51 h3.2 M368.40,152.51 h-3.2 M41.70,143.84 h6.6 M368.40,143.84 h-6.6 M41.70,135.17 h3.2 M368.40,135.17 h-3.2 M41.70,126.50 h3.2 M368.40,126.50 h-3.2 M41.70,117.83 h3.2 M368.40,117.83 h-3.2 M41.70,109.16 h6.6 M368.40,109.16 h-6.6 M41.70,100.49 h3.2 M368.40,100.49 h-3.2 M41.70,91.81 h3.2 M368.40,91.81 h-3.2 M41.70,83.14 h3.2 M368.40,83.14 h-3.2 M41.70,74.47 h6.6 M368.40,74.47 h-6.6 M41.70,65.80 h3.2 M368.40,65.80 h-3.2 M41.70,57.13 h3.2 M368.40,57.13 h-3.2 M41.70,48.46 h3.2 M368.40,48.46 h-3.2 M41.70,39.79 h6.6 M368.40,39.79 h-6.6 M41.70,31.11 h3.2 M368.40,31.11 h-3.2 M41.70,22.44 h3.2 M368.40,22.44 h-3.2 M41.70,13.77 h3.2 M368.40,13.77 h-3.2 M41.70,5.10 h6.6 M368.40,5.10 h-6.6" stroke="#000" stroke-width="1.3" fill="none"/>
<rect x="41.70" y="5.10" width="326.70" height="242.80" fill="none" stroke="#000" stroke-width="1.5"/>
<text x="38.7" y="248.40" font-size="12.8" text-anchor="end">-4</text>
<text x="38.7" y="217.41" font-size="12.8" text-anchor="end">-2</text>
<text x="38.7" y="182.73" font-size="12.8" text-anchor="end">0</text>
<text x="38.7" y="148.04" font-size="12.8" text-anchor="end">2</text>
<text x="38.7" y="113.36" font-size="12.8" text-anchor="end">4</text>
<text x="38.7" y="78.67" font-size="12.8" text-anchor="end">6</text>
<text x="38.7" y="43.99" font-size="12.8" text-anchor="end">8</text>
<text x="39.7" y="11.90" font-size="12.8" text-anchor="end" letter-spacing="0.4">10</text>
<text x="42.20" y="263.2" font-size="13" text-anchor="middle"><tspan>10</tspan><tspan font-size="6.0" dy="-4.7">-2</tspan></text>
<text x="123.88" y="263.2" font-size="13" text-anchor="middle"><tspan>10</tspan><tspan font-size="6.0" dy="-4.7">-1</tspan></text>
<text x="205.55" y="263.2" font-size="13" text-anchor="middle"><tspan>10</tspan><tspan font-size="6.0" dy="-4.7">0</tspan></text>
<text x="287.22" y="263.2" font-size="13" text-anchor="middle"><tspan>10</tspan><tspan font-size="6.0" dy="-4.7">1</tspan></text>
<text x="368.90" y="263.2" font-size="13" text-anchor="middle"><tspan>10</tspan><tspan font-size="6.0" dy="-4.7">2</tspan></text>
<text x="205" y="277" font-size="13" font-weight="bold" font-style="italic" text-anchor="middle">q</text>
<text transform="translate(17.3,171.2) rotate(-90)" font-size="12.7"><tspan x="0" y="0">sgn(</tspan><tspan x="21.1" y="0" font-size="14">λ</tspan><tspan x="27.9" y="3.0" font-size="9.3" font-style="italic">km</tspan><tspan x="37.4" y="0">)ln(</tspan><tspan x="54.6" y="0">1</tspan><tspan x="60.4" y="0">+</tspan><tspan x="68.0" y="0" font-size="14">λ</tspan><tspan x="74.8" y="3.0" font-size="9.3" font-style="italic">km</tspan><tspan x="84.8" y="0">)</tspan></text>
<rect x="48.3" y="15.4" width="104.3" height="46.0" fill="#fff" stroke="#666" stroke-width="0.5"/>
<line x1="57.5" y1="23.00" x2="88.7" y2="23.00" stroke="#ff2020" stroke-width="1.50"/>
<text x="96.9" y="26.00" font-size="9.9" style="fill:#262626"><tspan font-weight="bold" font-style="italic">m</tspan> = 2, <tspan font-weight="bold" font-style="italic">k</tspan>=0</text>
<line x1="57.5" y1="33.13" x2="88.7" y2="33.13" stroke="#3018ff" stroke-width="1.50"/>
<text x="96.9" y="36.13" font-size="9.9" style="fill:#262626"><tspan font-weight="bold" font-style="italic">m</tspan> = -2, <tspan font-weight="bold" font-style="italic">k</tspan>=0</text>
<path d="M57.4,43.41 H63.9 M67.0,43.41 H73.6 M76.1,43.41 H83.0 M86.0,43.41 H88.8" stroke="#ff5808" stroke-width="1.50" fill="none"/>
<text x="96.9" y="46.41" font-size="9.9" style="fill:#262626"><tspan font-weight="bold" font-style="italic">m</tspan> = 2, <tspan font-weight="bold" font-style="italic">k</tspan>=-2</text>
<path d="M57.4,53.54 H63.9 M67.0,53.54 H73.6 M76.1,53.54 H83.0 M86.0,53.54 H88.8" stroke="#08f07c" stroke-width="1.50" fill="none"/>
<text x="96.9" y="56.54" font-size="9.9" style="fill:#262626"><tspan font-weight="bold" font-style="italic">m</tspan> = -2, <tspan font-weight="bold" font-style="italic">k</tspan>=-2</text>
</svg></body></html>
